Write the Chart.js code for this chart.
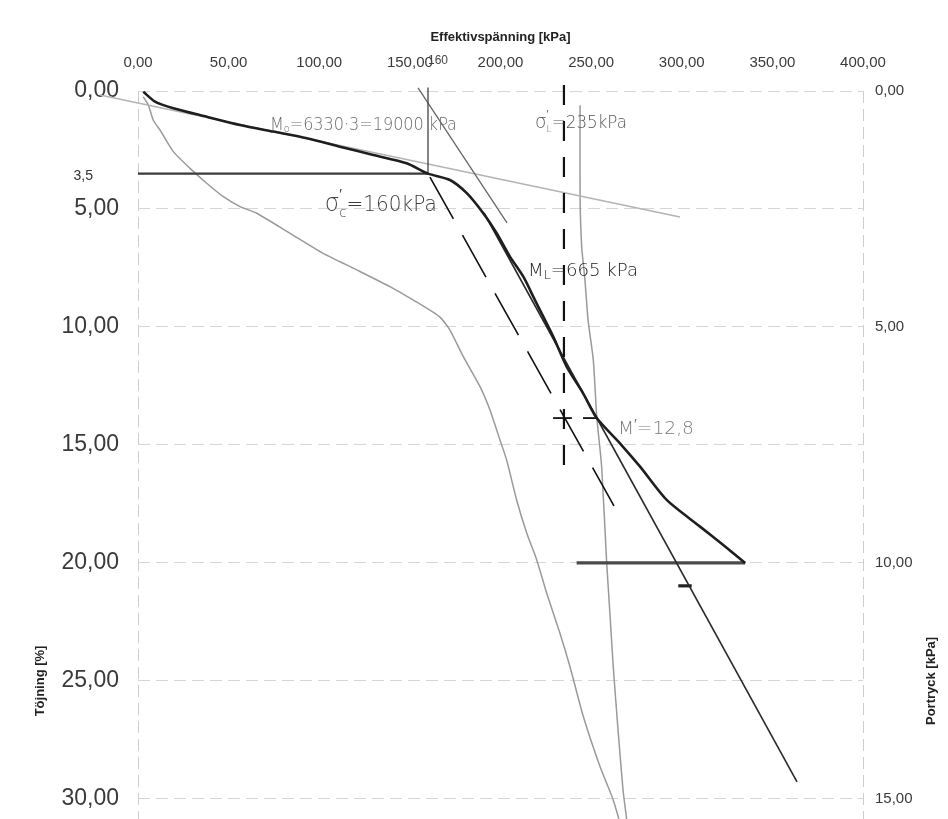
<!DOCTYPE html>
<html>
<head>
<meta charset="utf-8">
<style>
  html, body { margin: 0; padding: 0; background: #ffffff; }
  #wrap { width: 948px; height: 819px; }
</style>
<script src="https://cdn.jsdelivr.net/npm/chart.js@4.4.0/dist/chart.umd.min.js"></script>
</head>
<body>
<div id="wrap"><canvas id="c" width="948" height="819"></canvas></div>
<script>
// ---- axis ticks ----
const stressTicks = [0, 50, 100, 150, 200, 250, 300, 350, 400];
const strainTicks = [0, 5, 10, 15, 20, 25, 30];
const poreTicks = [0, 5, 10, 15];

// ---- measured stress–strain curve (effective stress kPa, strain %) ----
const curveStress = [2.9, 9.4, 19.5, 37.9, 56.3, 74.6, 93.1, 111.4, 129.8, 148.2, 160.0, 172.1, 181.4, 190.5,
  197.9, 205.2, 212.6, 219.0, 229.1, 236.5, 245.5, 253.1, 265.9, 277.0, 291.7, 310.1, 322.9, 335.0];
const curveStrain = [0.03, 0.45, 0.73, 1.09, 1.44, 1.72, 2.00, 2.36, 2.71, 3.06, 3.50, 3.77, 4.33, 5.18,
  6.03, 7.02, 7.87, 8.86, 10.41, 11.68, 12.80, 13.86, 14.93, 15.92, 17.33, 18.46, 19.24, 20.00];

// ---- second recorded curve (grey) ----
const greyStress = [2.9, 5.7, 8.4, 12.1, 19.5, 28.7, 37.9, 47.1, 56.3, 65.5, 83.9, 102.2, 120.7, 139.0, 151.9,
  166.6, 172.1, 179.5, 188.7, 194.2, 199.7, 203.4, 208.9, 214.5, 220.0, 225.5, 232.8, 238.3, 245.7, 254.9, 262.2, 265.3];
const greyStrain = [0.25, 0.59, 1.23, 1.65, 2.57, 3.28, 3.91, 4.48, 4.90, 5.18, 6.03, 6.88, 7.58, 8.29, 8.86,
  9.58, 10.13, 11.26, 12.53, 13.52, 14.79, 15.64, 17.33, 18.74, 19.87, 21.28, 22.98, 24.39, 26.51, 28.63, 30.04, 30.85];

// ---- near-vertical grey curve ----
const steepStress = [243.9, 243.9, 244.8, 246.6, 248.3, 251.2, 253.1, 255.8, 258.6, 259.9, 262.2, 265.0, 267.6, 269.6];
const steepStrain = [0.60, 4.48, 6.60, 8.01, 9.70, 11.40, 13.80, 15.92, 20.01, 21.57, 24.39, 27.22, 29.62, 30.85];

// ---- construction lines ----
const moStress = [-21, 299];        const moStrain = [0.17, 5.34];
const tangentStress = [154.5, 203.6]; const tangentStrain = [-0.13, 5.59];
const mlStress = [190.9, 363.6];    const mlStrain = [5.17, 29.28];
const sigmaC = 160;                 const sigmaCStrain = 3.5;
const sigmaL = 235;                 const sigmaLStrain = [-0.25, 16.3];
const diagStress = [160, 262.6];    const diagStrain = [3.5, 17.58];
const crossLeft = [229.0, 239.4];   const crossRight = [245.5, 253.8]; const crossStrain = 13.86;
const endStress = [242, 335];       const endStrain = 20;
const markStress = [298.1, 305.5];  const markStrain = 20.97;

const fmt = v => v.toFixed(2).replace('.', ',');
const pts = (xs, ys) => xs.map((x, i) => ({ x, y: Array.isArray(ys) ? ys[i] : ys }));

function line(label, data, color, width, extra) {
  return Object.assign({
    label, data, borderColor: color, borderWidth: width, showLine: true,
    pointRadius: 0, pointHoverRadius: 0, fill: false, tension: 0
  }, extra || {});
}

const datasets = [
  line('Töjning', pts(curveStress, curveStrain), '#1e1e1e', 2.6, { tension: 0.25 }),
  line('Sigma L', [{ x: sigmaL, y: sigmaLStrain[0] }, { x: sigmaL, y: sigmaLStrain[1] }], '#111', 2.2, { borderDash: [20, 16], clip: false }),
  line('Diagonal', pts(diagStress, diagStrain), '#111', 1.6, { borderDash: [48, 18.6], borderDashOffset: -4 }),
  line('Kors vänster', pts(crossLeft, crossStrain), '#111', 1.8),
  line('Kors höger', pts(crossRight, crossStrain), '#111', 1.8),
  line('ML', pts(mlStress, mlStrain), '#2a2a2a', 1.6),
  line('Slut', pts(endStress, endStrain), '#4a4a4a', 3.2),
  line('Markering', pts(markStress, markStrain), '#222', 3.2),
  line('Förkons', [{ x: 0, y: sigmaCStrain }, { x: sigmaC, y: sigmaCStrain }], '#3a3a3a', 2.2),
  line('Förkons vertikal', [{ x: sigmaC, y: -0.15 }, { x: sigmaC, y: sigmaCStrain }], '#444', 1.3, { clip: false }),
  line('Tangent', pts(tangentStress, tangentStrain), '#666', 1.3, { clip: false }),
  line('M0', pts(moStress, moStrain), '#b4b4b4', 1.5, { clip: false }),
  line('Kurva 2', pts(greyStress, greyStrain), '#9a9a9a', 1.5, { tension: 0.2 }),
  line('Kurva 3', pts(steepStress, steepStrain), '#9a9a9a', 1.5, { tension: 0.2 })
];

// hand-written notes: anchor = left edge (kPa) and vertical centre (strain %)
const notes = [
  { parts: [{ t: 'M' }, { t: 'o', s: 0.6, dy: 0.15 }, { t: '=6330·3=19000 kPa' }],
    x: 72.8, y: 1.36, size: 18, width: 187, color: '#6a6a6a' },
  { parts: [{ t: 'σ', s: 1.15 }, { t: '′', s: 0.7, dy: -0.55, keep: true }, { t: 'c', s: 0.65, dy: 0.3 }, { t: '=160kPa' }],
    x: 103, y: 4.75, size: 21, width: 112, color: '#3c3c3c' },
  { parts: [{ t: 'σ', s: 1.1 }, { t: '′', s: 0.6, dy: -0.6, keep: true }, { t: 'L', s: 0.55, dy: 0.25 }, { t: '=235kPa' }],
    x: 219, y: 1.31, size: 17, width: 92, color: '#555' },
  { parts: [{ t: 'M' }, { t: 'L', s: 0.7, dy: 0.15 }, { t: '=665 kPa' }],
    x: 215.2, y: 7.58, size: 18, width: 110, color: '#1a1a1a' },
  { parts: [{ t: 'M' }, { t: '′', s: 0.8, dy: -0.3 }, { t: '=12,8' }],
    x: 264.8, y: 14.28, size: 18, width: 76, color: '#7a7a7a' }
];

const handFont = size => `300 ${size}px "DejaVu Sans", "Liberation Sans", sans-serif`;

function drawRich(ctx, n, px, py) {
  let w = 0;
  for (const p of n.parts) {
    ctx.font = handFont(n.size * (p.s || 1));
    if (!p.keep) w += ctx.measureText(p.t).width;
  }
  const k = n.width / w;
  ctx.save();
  ctx.translate(px, py + n.size * 0.36);
  ctx.scale(k, 1);
  ctx.fillStyle = n.color;
  ctx.textBaseline = 'alphabetic';
  ctx.textAlign = 'left';
  let cx = 0;
  for (const p of n.parts) {
    ctx.font = handFont(n.size * (p.s || 1));
    ctx.fillText(p.t, cx, (p.dy || 0) * n.size);
    if (!p.keep) cx += ctx.measureText(p.t).width;
  }
  ctx.restore();
}

const notePlugin = {
  id: 'notes',
  afterDatasetsDraw(chart) {
    const { ctx, scales: { x, y }, chartArea } = chart;
    ctx.save();
    for (const n of notes) drawRich(ctx, n, x.getPixelForValue(n.x), y.getPixelForValue(n.y));

    // typed marks for the preconsolidation point
    ctx.fillStyle = '#444';
    ctx.font = '12px "Liberation Sans", Arial, sans-serif';
    ctx.textAlign = 'left';
    ctx.textBaseline = 'middle';
    ctx.fillText(String(sigmaC), x.getPixelForValue(sigmaC), chartArea.top - 30);
    ctx.fillStyle = '#333';
    ctx.font = '14px "Liberation Sans", Arial, sans-serif';
    ctx.textAlign = 'right';
    ctx.fillText(String(sigmaCStrain).replace('.', ','), chartArea.left - 45, y.getPixelForValue(sigmaCStrain) + 3);

    // side axis titles
    ctx.font = 'bold 13px "Liberation Sans", Arial, sans-serif';
    ctx.fillStyle = '#222';
    ctx.textAlign = 'center';
    ctx.textBaseline = 'middle';
    const ty = y.getPixelForValue(25);
    ctx.save();
    ctx.translate(40, ty);
    ctx.rotate(-Math.PI / 2);
    ctx.fillText('Töjning [%]', 0, 0);
    ctx.restore();
    ctx.save();
    ctx.translate(931, ty);
    ctx.rotate(-Math.PI / 2);
    ctx.fillText('Portryck [kPa]', 0, 0);
    ctx.restore();
    ctx.restore();
  }
};

const tickFont = size => ({ family: '"Liberation Sans", Arial, sans-serif', size });
const gridDash = [12, 6];
const noPad = s => { s.paddingTop = 0; s.paddingBottom = 0; s.paddingLeft = 0; s.paddingRight = 0; };

new Chart(document.getElementById('c'), {
  type: 'scatter',
  data: { datasets },
  options: {
    responsive: false,
    animation: false,
    devicePixelRatio: 1,
    layout: { padding: 0 },
    plugins: { legend: { display: false }, tooltip: { enabled: false } },
    scales: {
      x: {
        type: 'linear', position: 'top', min: 0, max: 400,
        afterBuildTicks: s => { s.ticks = stressTicks.map(v => ({ value: v })); },
        afterFit: s => { s.height = 91; noPad(s); },
        ticks: { callback: v => fmt(v), font: tickFont(15), color: '#3a3a3a', padding: 19, maxRotation: 0, autoSkip: false },
        grid: {
          drawTicks: false, lineWidth: 1,
          color: c => (c.tick && (c.tick.value === 0 || c.tick.value === 400)) ? '#cdcdcd' : 'rgba(0,0,0,0)'
        },
        border: { display: false, dash: gridDash },
        title: {
          display: true, text: 'Effektivspänning [kPa]', color: '#222',
          font: { family: '"Liberation Sans", Arial, sans-serif', size: 13, weight: 'bold' },
          padding: { top: 30, bottom: 0 }
        }
      },
      y: {
        type: 'linear', position: 'left', reverse: true, min: 0, max: 30.85,
        afterBuildTicks: s => { s.ticks = strainTicks.map(v => ({ value: v })); },
        afterFit: s => { s.width = 138; noPad(s); },
        ticks: { callback: v => fmt(v), font: tickFont(23), color: '#3a3a3a', padding: 19 },
        grid: { drawTicks: false, color: '#d6d6d6', lineWidth: 1 },
        border: { display: false, dash: gridDash }
      },
      y2: {
        type: 'linear', position: 'right', reverse: true, min: 0, max: 15.425,
        afterBuildTicks: s => { s.ticks = poreTicks.map(v => ({ value: v })); },
        afterFit: s => { s.width = 85; noPad(s); },
        ticks: { callback: v => fmt(v), font: tickFont(15), color: '#3a3a3a', padding: 12 },
        grid: { display: false, drawTicks: false },
        border: { display: false }
      }
    }
  },
  plugins: [notePlugin]
});
</script>
</body>
</html>
